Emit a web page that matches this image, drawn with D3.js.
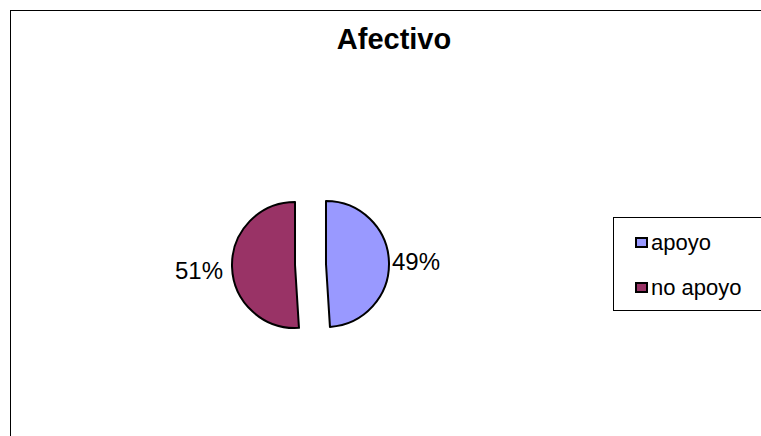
<!DOCTYPE html>
<html><head><meta charset="utf-8">
<script src="https://cdn.jsdelivr.net/npm/d3@7"></script>
<style>body{margin:0;background:#fff}svg{display:block}</style>
</head><body>
<script>
const title = "Afectivo";
const categories = ["apoyo", "no apoyo"];
const values = [49, 51];
const colors = ["#9999FF", "#993366"];

const W = 761, H = 436;
const FONT = "Liberation Sans, Arial, sans-serif";
const svg = d3.select("body").append("svg").attr("width", W).attr("height", H);
svg.append("rect").attr("x", 10.5).attr("y", 10.5).attr("width", W).attr("height", H)
  .attr("fill", "#fff").attr("stroke", "#000").attr("stroke-width", 1);

svg.append("text").attr("x", 394).attr("y", 49).attr("text-anchor", "middle")
  .attr("font-family", FONT).attr("font-weight", "bold")
  .attr("font-size", 29).text(title);

const cx = 310.5, cy = 264.5, r = 63, explode = 15.5;
const pie = d3.pie().sort(null).value(d => d)(values);
const arc = d3.arc().innerRadius(0).outerRadius(r);
const g = svg.append("g").attr("transform", `translate(${cx},${cy})`);
pie.forEach((p, i) => {
  const mid = (p.startAngle + p.endAngle) / 2;
  const dx = Math.sin(mid) * explode, dy = -Math.cos(mid) * explode;
  const sg = g.append("g").attr("transform", `translate(${dx},${dy})`);
  sg.append("path").attr("d", arc(p)).attr("fill", colors[i])
    .attr("stroke", "#000").attr("stroke-width", 2).attr("stroke-linejoin", "round");
  const right = Math.sin(mid) > 0;
  const lr = r + (right ? 3 : 9);
  const lx = Math.sin(mid) * lr, ly = -Math.cos(mid) * lr;
  sg.append("text").attr("x", lx).attr("y", ly + (right ? 8 : 12))
    .attr("text-anchor", right ? "start" : "end")
    .attr("font-family", FONT).attr("font-size", 24)
    .text(Math.round(p.data) + "%");
});

const lg = svg.append("g").attr("transform", "translate(613,217)");
lg.append("rect").attr("x", 0.5).attr("y", 0.5).attr("width", 160).attr("height", 93)
  .attr("fill", "#fff").attr("stroke", "#000").attr("stroke-width", 1);
categories.forEach((c, i) => {
  const y = 21 + i * 45;
  lg.append("rect").attr("x", 23).attr("y", y).attr("width", 11).attr("height", 9)
    .attr("fill", colors[i]).attr("stroke", "#000").attr("stroke-width", 2);
  lg.append("text").attr("x", 38).attr("y", y + 12)
    .attr("font-family", FONT).attr("font-size", 22)
    .text(c);
});
</script>
</body></html>
